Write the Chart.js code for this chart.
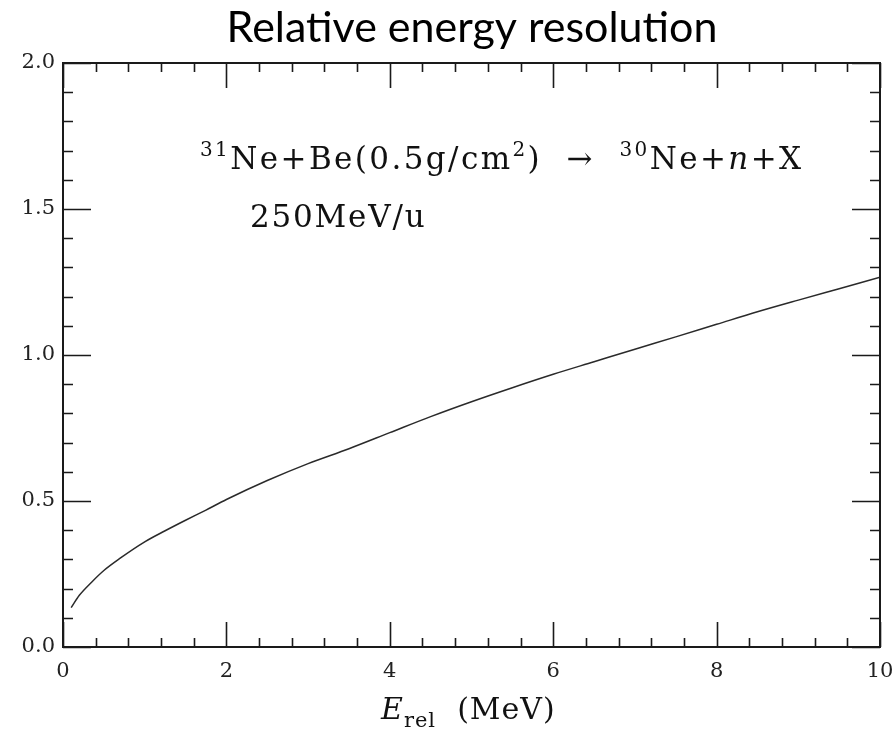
<!DOCTYPE html>
<html><head><meta charset="utf-8">
<script src="https://cdn.jsdelivr.net/npm/chart.js@4/dist/chart.umd.min.js"></script>
<style>html,body{margin:0;padding:0;background:#fff}#wrap{width:895px;height:732px;position:relative}</style>
</head><body><div id="wrap"><canvas id="c"></canvas></div>
<script>
const energies = [0.1,0.2,0.35,0.5,0.7,1.0,1.25,1.5,1.75,2.0,2.5,3.0,3.5,4.0,4.5,5.0,5.5,6.0,6.5,7.0,7.5,8.0,8.5,9.0,9.5,10.0];
const resolution = [0.135,0.177,0.222,0.262,0.304,0.36,0.398,0.434,0.469,0.505,0.57,0.628,0.679,0.734,0.789,0.84,0.888,0.934,0.977,1.02,1.062,1.105,1.148,1.188,1.227,1.266];
const xTickValues = [0,2,4,6,8,10];
const xTickLabels = ["0","2","4","6","8","10"];
const yTickValues = [0,0.5,1.0,1.5,2.0];
const yTickLabels = ["0.0","0.5","1.0","1.5","2.0"];
const titleText = "Relative energy resolution";
const annotationLine2 = "250MeV/u";

const serif = '"DejaVu Serif", "Liberation Serif", serif';

function drawSegments(ctx, x, y, segs, spacing){
  let cx = x;
  if ('letterSpacing' in ctx) ctx.letterSpacing = (spacing||0) + 'px';
  segs.forEach(s=>{
    ctx.font = (s.italic?'italic ':'') + s.size + 'px ' + serif;
    ctx.fillText(s.t, cx, y - (s.dy||0));
    cx += ctx.measureText(s.t).width;
  });
  if ('letterSpacing' in ctx) ctx.letterSpacing = '0px';
}

const framePlugin = {
  id:'frame',
  afterDraw(chart){
    const ctx = chart.ctx, a = chart.chartArea;
    const xs = chart.scales.x, ys = chart.scales.y;
    ctx.save();
    ctx.strokeStyle = '#1a1a1a';
    ctx.lineWidth = 2;
    ctx.strokeRect(a.left, a.top, a.right-a.left, a.bottom-a.top);
    ctx.lineWidth = 1.6;
    ctx.beginPath();
    for(let i=0;i<=25;i++){
      const v = i*0.4;
      const px = Math.round(xs.getPixelForValue(v))+0.5;
      const major = xTickValues.some(t=>Math.abs(t-v)<1e-6);
      const len = major?25:9;
      ctx.moveTo(px, a.bottom); ctx.lineTo(px, a.bottom-len);
      ctx.moveTo(px, a.top); ctx.lineTo(px, a.top+len);
    }
    for(let i=0;i<=20;i++){
      const v = i*0.1;
      const py = Math.round(ys.getPixelForValue(v))+0.5;
      const major = yTickValues.some(t=>Math.abs(t-v)<1e-6);
      const len = major?28:10;
      ctx.moveTo(a.left, py); ctx.lineTo(a.left+len, py);
      ctx.moveTo(a.right, py); ctx.lineTo(a.right-len, py);
    }
    ctx.stroke();

    // title
    ctx.fillStyle = '#000';
    ctx.textBaseline = 'alphabetic';
    ctx.textAlign = 'center';
    ctx.font = '43px Lato, "Open Sans", sans-serif';
    ctx.fillText(titleText, 472, 42);

    // annotation
    ctx.textAlign = 'left';
    ctx.fillStyle = '#111';
    drawSegments(ctx, 200, 169, [
      {t:'31', size:20, dy:13},
      {t:'Ne+Be(0.5g/cm', size:31},
      {t:'2', size:20, dy:13},
      {t:')  \u2192  ', size:31},
      {t:'30', size:20, dy:13},
      {t:'Ne+', size:31},
      {t:'n', size:31, italic:true},
      {t:'+X', size:31}
    ], 2.4);
    drawSegments(ctx, 250, 227, [{t:annotationLine2, size:31}], 1.8);

    // x axis title
    drawSegments(ctx, 381, 719, [
      {t:'E', size:30, italic:true},
      {t:'rel', size:21, dy:-8},
      {t:'  (MeV)', size:30}
    ], 1);
    ctx.restore();
  }
};

new Chart(document.getElementById('c'), {
  type:'scatter',
  data:{datasets:[{
    data: energies.map((e,i)=>({x:e, y:resolution[i]})),
    showLine:true, pointRadius:0, borderColor:'#2a2a2a', borderWidth:1.5,
    cubicInterpolationMode:'monotone', fill:false
  }]},
  options:{
    responsive:true, maintainAspectRatio:false, animation:false,
    layout:{padding:{left:0, right:15, top:63, bottom:0}},
    plugins:{legend:{display:false}, tooltip:{enabled:false}, title:{display:false}},
    scales:{
      x:{
        type:'linear', min:0, max:10,
        afterBuildTicks(s){ s.ticks = xTickValues.map(v=>({value:v})); },
        afterFit(s){ s.height = 85; s.paddingLeft = 0; s.paddingRight = 0; },
        grid:{display:false, drawTicks:false}, border:{display:false},
        ticks:{ padding:12, color:'#222', maxRotation:0, autoSkip:false,
          font:{family:serif, size:21},
          callback(v){ const i = xTickValues.indexOf(v); return i>=0 ? xTickLabels[i] : ''; } }
      },
      y:{
        type:'linear', min:0, max:2,
        afterBuildTicks(s){ s.ticks = yTickValues.map(v=>({value:v})); },
        afterFit(s){ s.width = 63; s.paddingTop = 0; s.paddingBottom = 0; },
        grid:{display:false, drawTicks:false}, border:{display:false},
        ticks:{ padding:8, color:'#222', autoSkip:false,
          font:{family:serif, size:21},
          callback(v){ const i = yTickValues.findIndex(t=>Math.abs(t-v)<1e-9); return i>=0 ? yTickLabels[i] : ''; } }
      }
    }
  },
  plugins:[framePlugin]
});
</script></body></html>
